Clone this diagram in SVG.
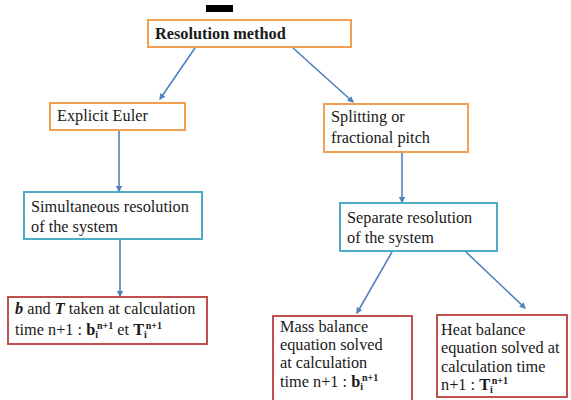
<svg xmlns="http://www.w3.org/2000/svg" width="571" height="400" viewBox="0 0 571 400">
<style>
text{font-size:16.3px;fill:#1a1a1a}
.b{font-weight:bold}
.bi{font-weight:bold;font-style:italic}
.s{font-size:10px;font-weight:bold}
.o{fill:#fff;stroke:#f0a050;stroke-width:2}
.c{fill:#fff;stroke:#4bacc6;stroke-width:2}
.r{fill:#fff;stroke:#c0504d;stroke-width:2}
.e{stroke:#4f81bd;stroke-width:1.6;fill:none;marker-end:url(#a)}
</style>
<defs>
<marker id="a" viewBox="0 0 10 10" refX="8" refY="5" markerWidth="4" markerHeight="4" orient="auto" markerUnits="strokeWidth">
<path d="M0,0 L10,5 L0,10 z" fill="#4f81bd"/>
</marker>
</defs>
<rect x="206" y="5" width="27" height="7" fill="#000"/>
<g id="edges">
<line class="e" x1="195" y1="48" x2="160" y2="99"/>
<line class="e" x1="293" y1="48" x2="353" y2="102"/>
<line class="e" x1="119" y1="131" x2="119" y2="191"/>
<line class="e" x1="402" y1="153" x2="402" y2="202"/>
<line class="e" x1="120" y1="240" x2="120" y2="296"/>
<line class="e" x1="392" y1="252" x2="357" y2="313"/>
<line class="e" x1="466" y1="252" x2="525" y2="308"/>
</g>
<g font-family="'Liberation Serif', 'DejaVu Serif', serif">
<g id="n1"><rect class="o" x="148" y="20" width="203" height="27"/><text class="b" x="155" y="39">Resolution method</text></g>
<g id="n2"><rect class="o" x="50" y="103" width="135" height="27"/><text x="57" y="121">Explicit Euler</text></g>
<g id="n3"><rect class="o" x="324" y="104" width="144" height="48"/><text x="331" y="122">Splitting or</text><text x="331" y="143">fractional pitch</text></g>
<g id="n4"><rect class="c" x="24" y="192" width="178" height="47"/><text x="31" y="212">Simultaneous resolution</text><text x="31" y="232">of the system</text></g>
<g id="n5"><rect class="c" x="340" y="203" width="157" height="48"/><text x="347" y="223">Separate resolution</text><text x="347" y="243">of the system</text></g>
<g id="n6"><rect class="r" x="8" y="297" width="199" height="47"/><text x="15" y="314"><tspan class="bi">b</tspan> and <tspan class="bi">T</tspan> taken at calculation</text><text x="15" y="335">time n+1 : <tspan class="b">b</tspan><tspan class="s" dy="3">i</tspan><tspan class="s" dy="-9" dx="-1">n+1</tspan><tspan dy="6"> et </tspan><tspan class="b">T</tspan><tspan class="s" dy="3">i</tspan><tspan class="s" dy="-9" dx="-1">n+1</tspan></text></g>
<g id="n7"><rect class="r" x="273" y="316" width="139" height="90"/><text x="280" y="332">Mass balance</text><text x="280" y="350">equation solved</text><text x="280" y="368">at calculation</text><text x="280" y="387">time n+1 : <tspan class="b">b</tspan><tspan class="s" dy="3">i</tspan><tspan class="s" dy="-9" dx="-1">n+1</tspan></text></g>
<g id="n8"><rect class="r" x="437" y="315" width="130" height="82"/><text x="441" y="335">Heat balance</text><text x="441" y="353">equation solved at</text><text x="441" y="372">calculation time</text><text x="441" y="390">n+1 : <tspan class="b">T</tspan><tspan class="s" dy="3">i</tspan><tspan class="s" dy="-9" dx="-1">n+1</tspan></text></g>
</g>
</svg>
